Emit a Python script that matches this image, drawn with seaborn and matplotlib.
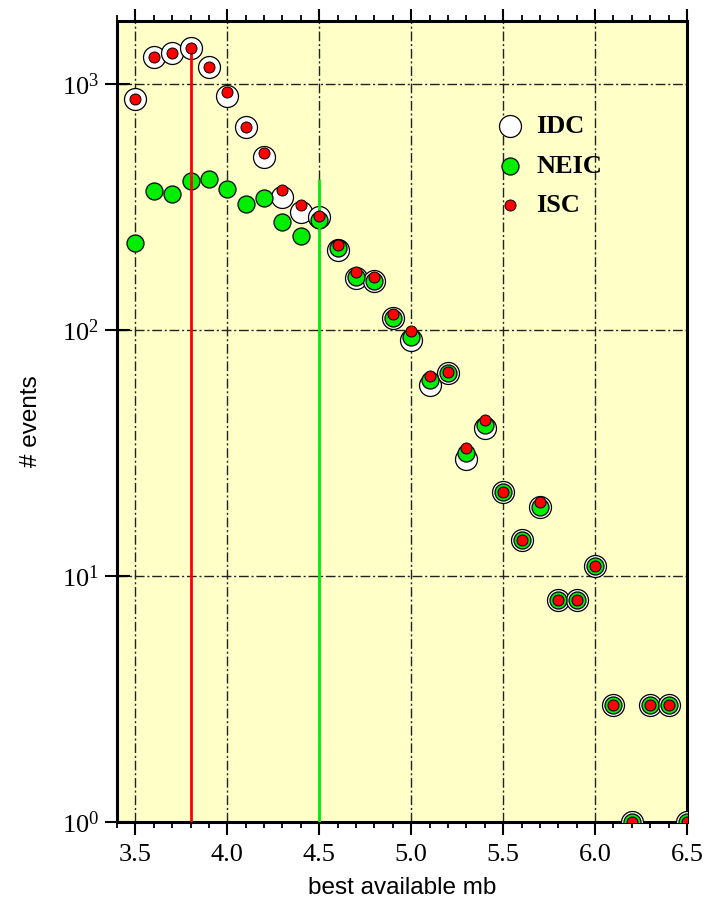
import numpy as np
import pandas as pd
import matplotlib
matplotlib.use("Agg")
import matplotlib.pyplot as plt
import seaborn as sns
from matplotlib.ticker import MultipleLocator, NullLocator, LogLocator, FixedLocator

# ---- data ----
mb = [3.5, 3.6, 3.7, 3.8, 3.9, 4.0, 4.1, 4.2, 4.3, 4.4, 4.5, 4.6, 4.7, 4.8, 4.9, 5.0,
      5.1, 5.2, 5.3, 5.4, 5.5, 5.6, 5.7, 5.8, 5.9, 6.0, 6.1, 6.2, 6.3, 6.4, 6.5]
idc = [869, 1290, 1336, 1400, 1170, 894, 669, 505, 347, 302, 288, 211, 163, 158, 112, 91,
       60, 67, 30, 40, 22, 14, 19, 8, 8, 11, 3, 1, 3, 3, 1]
neic = [226, 367, 357, 403, 411, 374, 325, 344, 275, 241, 280, 215, 164, 158, 112, 94,
        62.6, 67, 31.6, 41, 22, 14, 19, 8, 8, 11, 3, 1, 3, 3, 1]
isc = [869, 1290, 1336, 1400, 1170, 928, 669, 524, 371, 322, 291, 222, 172, 164, 116, 99,
       65, 67.5, 33, 43, 22, 14, 20, 8, 8, 11, 3, 1, 3, 3, 1]
series_names = ["IDC", "NEIC", "ISC"]
isc_peak_mb = 3.8
neic_cut_mb = 4.5
xticks = [3.5, 4.0, 4.5, 5.0, 5.5, 6.0, 6.5]
xticklabels = ["3.5", "4.0", "4.5", "5.0", "5.5", "6.0", "6.5"]

df = pd.DataFrame({"mb": mb, "IDC": idc, "NEIC": neic, "ISC": isc})

sns.set_theme(style="ticks")
plt.rcParams["font.family"] = ["Liberation Serif", "DejaVu Serif"]
plt.rcParams["mathtext.fontset"] = "custom"
plt.rcParams["mathtext.rm"] = "Liberation Serif"
plt.rcParams["mathtext.it"] = "Liberation Serif:italic"
plt.rcParams["mathtext.bf"] = "Liberation Serif:bold"
plt.rcParams["text.color"] = "black"
plt.rcParams["axes.labelcolor"] = "black"
plt.rcParams["xtick.color"] = "black"
plt.rcParams["ytick.color"] = "black"

fig = plt.figure(figsize=(7.04, 9.01), dpi=100)
ax = fig.add_axes([117 / 704, 1 - 822 / 901, (687 - 117) / 704, (822 - 21) / 901])
ax.set_facecolor("#FFFFC8")

ax.set_yscale("log")
ax.set_xlim(3.4, 6.5)
ax.set_ylim(1, 10 ** ((822 - 21) / 246))

# grid
ax.grid(True, which="major", color="#222222", linestyle=(0, (7, 2, 1.5, 2)), linewidth=1.0, zorder=0)
ax.set_axisbelow(True)

styles = {
    "IDC": dict(color="white", s=250, edgecolor="black", linewidth=0.9, zorder=3),
    "NEIC": dict(color="#00EE00", s=150, edgecolor="black", linewidth=0.9, zorder=4),
    "ISC": dict(color="#FF0000", s=63, edgecolor="black", linewidth=0.7, zorder=6),
}
for name in series_names:
    sns.scatterplot(data=df, x="mb", y=name, ax=ax, label=name, **styles[name])

# vertical marker lines
isc_peak_val = df.loc[df["mb"] == isc_peak_mb, "ISC"].max()
neic_max_val = max(neic)
ax.vlines(isc_peak_mb, 1, isc_peak_val, color="#FF0000", linewidth=2, zorder=5)
ax.vlines(neic_cut_mb, 1, neic_max_val, color="#00EE00", linewidth=2, zorder=5)

# ticks
ax.xaxis.set_major_locator(FixedLocator(xticks))
ax.set_xticklabels(xticklabels)
ax.xaxis.set_minor_locator(MultipleLocator(0.1))
ax.yaxis.set_major_locator(LogLocator(base=10, numticks=10))
ax.yaxis.set_minor_locator(NullLocator())
ax.tick_params(axis="x", which="major", direction="out", length=9, width=1.5,
               top=True, bottom=True, labelsize=19, pad=7)
ax.tick_params(axis="x", which="minor", direction="out", length=4.5, width=1.3,
               top=True, bottom=True)
ax.tick_params(axis="y", which="major", direction="inout", length=18, width=1.5,
               left=True, right=False, labelsize=19, pad=4)
for sp in ax.spines.values():
    sp.set_linewidth(2.2)
    sp.set_color("black")

ax.set_xlabel("best available mb", family=["Liberation Sans", "DejaVu Sans"], fontsize=17.5, labelpad=8)
ax.set_ylabel("# events", family=["Liberation Sans", "DejaVu Sans"], fontsize=17.5, labelpad=14)

leg = ax.legend(loc="upper left", bbox_to_anchor=(0.625, 0.896), frameon=False,
                prop={"family": "Liberation Serif", "weight": "bold", "size": 19},
                handletextpad=0.0, labelspacing=0.6, borderaxespad=0)

fig.savefig("out.png", dpi=100)
